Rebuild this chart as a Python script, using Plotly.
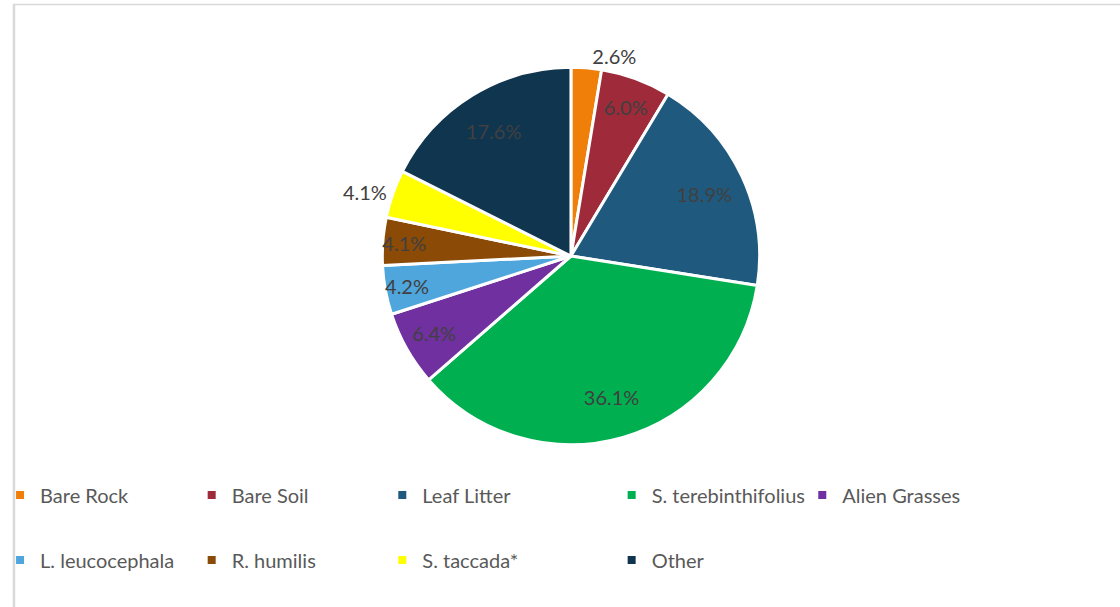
import plotly.graph_objects as go

categories = ["Bare Rock", "Bare Soil", "Leaf Litter", "S. terebinthifolius", "Alien Grasses",
              "L. leucocephala", "R. humilis", "S. taccada*", "Other"]
values = [2.6, 6.0, 18.9, 36.1, 6.4, 4.2, 4.1, 4.1, 17.6]
colors = ["#F07F09", "#9E2A3A", "#1F5A7E", "#00B050", "#7030A0",
          "#4EA6DC", "#8B4A05", "#FFFF00", "#10354F"]
outside = [True, False, False, False, False, False, False, True, False]

W, H = 1120, 607
FONT = "Lato"
TXT = "#404040"
LEG_TXT = "#595959"
dom = dict(x=[377 / W, 757 / W], y=[1 - 446 / H, 1 - 66 / H])

fig = go.Figure()
# main pie: slices + the labels that sit outside
fig.add_trace(go.Pie(
    labels=categories, values=values, sort=False, direction="clockwise", rotation=0,
    marker=dict(colors=colors, line=dict(color="white", width=3)),
    text=[f"{v:.1f}%" if o else "" for v, o in zip(values, outside)],
    textinfo="text", textposition="outside",
    textfont=dict(family=FONT, size=20, color=TXT),
    showlegend=False, hoverinfo="label+percent", domain=dom,
))
# transparent overlay ring used only to place the inside labels further out
fig.add_trace(go.Pie(
    labels=categories, values=values, sort=False, direction="clockwise", rotation=0, hole=0.56,
    marker=dict(colors=["rgba(0,0,0,0)"] * len(values), line=dict(width=0)),
    text=["" if o else f"{v:.1f}%" for v, o in zip(values, outside)],
    textinfo="text", textposition="inside", insidetextorientation="horizontal",
    textfont=dict(family=FONT, size=20, color=TXT),
    showlegend=False, hoverinfo="skip", domain=dom,
))

# legend entries (one legend per entry to reproduce the grid layout)
text_x = [37, 230, 422, 653, 845, 37, 230, 422, 653]
row_y = [495, 495, 495, 495, 495, 560, 560, 560, 560]
legends = {}
for i, (cat, col) in enumerate(zip(categories, colors)):
    name = "legend" if i == 0 else f"legend{i + 1}"
    fig.add_trace(go.Scatter(
        x=[None], y=[None], mode="markers", name=cat,
        marker=dict(symbol="square", size=8, color=col),
        legend=name, showlegend=True, hoverinfo="skip",
    ))
    legends[name] = dict(
        x=(text_x[i] - 45) / W, y=1 - row_y[i] / H, xanchor="left", yanchor="middle",
        orientation="h", bgcolor="rgba(0,0,0,0)",
        font=dict(family=FONT, size=20, color=LEG_TXT),
    )

fig.update_layout(
    width=W, height=H, margin=dict(l=0, r=0, t=0, b=0),
    paper_bgcolor="white", plot_bgcolor="white",
    xaxis=dict(visible=False), yaxis=dict(visible=False),
    uniformtext=dict(minsize=20, mode="show"),
    shapes=[
        dict(type="line", xref="paper", yref="paper", x0=6 / W, x1=6 / W, y0=0, y1=1 - 4 / H,
             line=dict(color="#D9D9D9", width=2.5)),
        dict(type="line", xref="paper", yref="paper", x0=5 / W, x1=1, y0=1 - 4.5 / H, y1=1 - 4.5 / H,
             line=dict(color="#D9D9D9", width=1.5)),
    ],
    **legends,
)

fig.write_html("out.html", config={"displayModeBar": False},
               post_script="document.body.style.margin='0';document.body.style.overflow='hidden';")
